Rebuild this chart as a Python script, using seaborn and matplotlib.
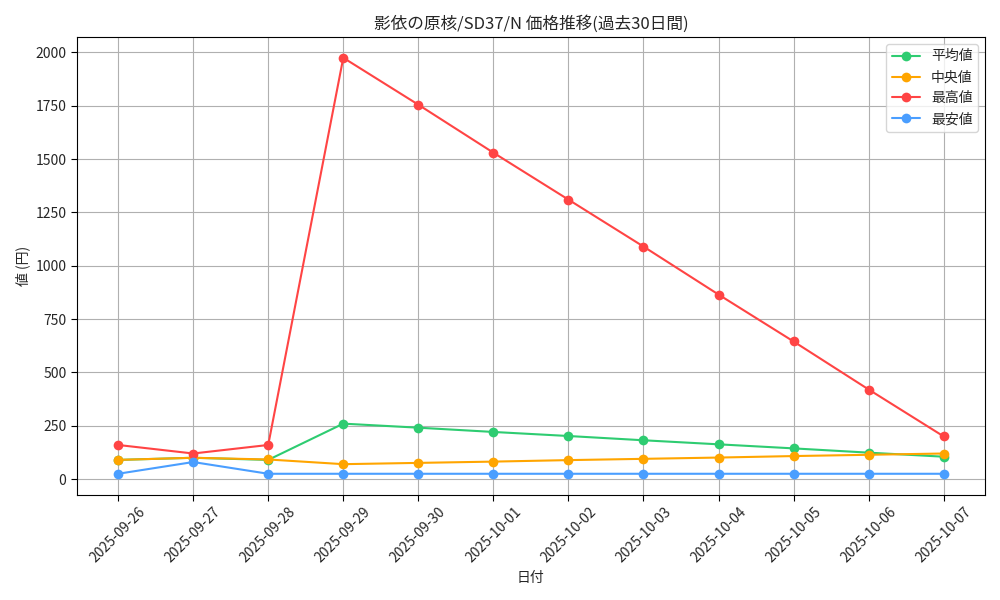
import matplotlib
matplotlib.use("Agg")
import matplotlib.pyplot as plt
import seaborn as sns
import pandas as pd

dates = ["2025-09-26", "2025-09-27", "2025-09-28", "2025-09-29", "2025-09-30", "2025-10-01",
         "2025-10-02", "2025-10-03", "2025-10-04", "2025-10-05", "2025-10-06", "2025-10-07"]
avg_vals = [90, 100, 90, 260, 241, 221, 202, 182, 163, 144, 124, 105]
median_vals = [90, 100, 92, 70, 76, 82, 89, 95, 101, 108, 114, 120]
max_vals = [160, 120, 160, 1975, 1755, 1530, 1310, 1090, 865, 645, 420, 200]
min_vals = [25, 80, 25, 25, 25, 25, 25, 25, 25, 25, 25, 25]

sns.set_style("whitegrid")
plt.rcParams['font.family'] = ['Noto Sans CJK JP', 'DejaVu Sans']

x = pd.to_datetime(dates)
fig, ax = plt.subplots(figsize=(10, 6), dpi=100)
series = [("平均値", avg_vals, "#2ecc71"), ("中央値", median_vals, "#ffa500"),
          ("最高値", max_vals, "#ff4444"), ("最安値", min_vals, "#4a9eff")]
for label, vals, color in series:
    sns.lineplot(x=x, y=vals, ax=ax, label=label, color=color, marker="o",
                 markersize=7, markeredgewidth=0, linewidth=1.5)

ax.set_xticks(x)
ax.set_xticklabels(dates, rotation=45)
ax.set_title("影依の原核/SD37/N 価格推移(過去30日間)")
ax.set_xlabel("日付")
ax.set_ylabel("値 (円)")
for s in ax.spines.values():
    s.set_color("black")
    s.set_linewidth(0.8)
ax.grid(True, color="#b0b0b0", linewidth=0.8)
ax.tick_params(axis="both", length=4, color="black", left=True, bottom=True)
ax.legend(loc="upper right", frameon=True)
fig.tight_layout()
fig.savefig("out.png")
